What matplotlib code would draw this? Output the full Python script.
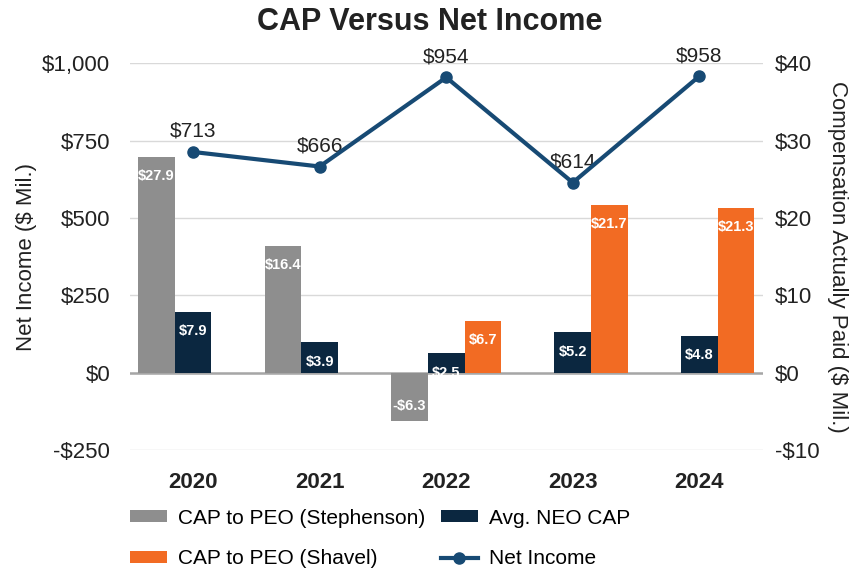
import matplotlib.pyplot as plt
import numpy as np

years = ["2020", "2021", "2022", "2023", "2024"]
net_income = [713, 666, 954, 614, 958]
cap_stephenson = [27.9, 16.4, -6.3, np.nan, np.nan]
cap_neo = [7.9, 3.9, 2.5, 5.2, 4.8]
cap_shavel = [np.nan, np.nan, 6.7, 21.7, 21.3]

gray = "#8E8E8E"
navy = "#0B2740"
orange = "#F26B23"
line_c = "#174A74"

plt.rcParams["font.family"] = ["Liberation Sans", "DejaVu Sans"]

fig = plt.figure(figsize=(8.54, 5.74), dpi=100)
ax = fig.add_axes([0.152, 0.216, 0.741, 0.674])
ax2 = ax.twinx()

x = np.arange(len(years))
w = 0.29

# bars on the right (CAP) axis
series = [(cap_stephenson, -w, gray, "CAP to PEO (Stephenson)"),
          (cap_neo, 0, navy, "Avg. NEO CAP"),
          (cap_shavel, w, orange, "CAP to PEO (Shavel)")]
handles = {}
for vals, off, col, lab in series:
    bars = ax2.bar(x + off, vals, width=w, color=col, label=lab, zorder=2)
    handles[lab] = bars
    for xi, v in zip(x + off, vals):
        if np.isnan(v):
            continue
        txt = f"${v:.1f}" if v >= 0 else f"-${-v:.1f}"
        if v >= 0:
            ax2.annotate(txt, (xi, v), xytext=(0, -9), textcoords="offset points",
                         ha="center", va="top", color="white", fontsize=10.5, fontweight="bold")
        else:
            ax2.annotate(txt, (xi, v), xytext=(0, 6), textcoords="offset points",
                         ha="center", va="bottom", color="white", fontsize=10.5, fontweight="bold")

# net income line on the left axis
ln, = ax.plot(x, net_income, color=line_c, lw=3, marker="o", ms=8, label="Net Income", zorder=5)
for xi, v in zip(x, net_income):
    ax.annotate(f"${v}", (xi, v), xytext=(0, 8), textcoords="offset points",
                ha="center", va="bottom", fontsize=15, color="#222222", annotation_clip=False)

ax.set_ylim(-250, 1000)
ax2.set_ylim(-10, 40)
ax.set_xlim(-0.5, 4.5)
ax.set_yticks([-250, 0, 250, 500, 750, 1000])
ax.set_yticklabels(["-$250", "$0", "$250", "$500", "$750", "$1,000"])
ax2.set_yticks([-10, 0, 10, 20, 30, 40])
ax2.set_yticklabels(["-$10", "$0", "$10", "$20", "$30", "$40"])
ax.set_xticks(x)
ax.set_xticklabels(years, fontweight="bold")

for a in (ax, ax2):
    for s in a.spines.values():
        s.set_visible(False)
    a.tick_params(length=0, labelsize=16, colors="#222222")
ax.tick_params(axis="x", pad=16)
ax.tick_params(axis="y", pad=14)
ax2.tick_params(axis="y", pad=9)

ax.grid(axis="y", color="#D9D9D9", lw=1)
ax.set_axisbelow(True)
ax.axhline(0, color="#A6A6A6", lw=1.8, zorder=1)

ax.set_ylabel("Net Income ($ Mil.)", fontsize=16, color="#222222", labelpad=4)
ax2.set_ylabel("Compensation Actually Paid ($ Mil.)", fontsize=16, color="#222222",
               rotation=270, labelpad=20)

fig.suptitle("CAP Versus Net Income", x=0.503, y=0.988, fontsize=22, fontweight="bold", color="#222222")

order = [handles["CAP to PEO (Stephenson)"], handles["CAP to PEO (Shavel)"],
         handles["Avg. NEO CAP"], ln]
labels = ["CAP to PEO (Stephenson)", "CAP to PEO (Shavel)", "Avg. NEO CAP", "Net Income"]
fig.legend(order, labels, ncol=2, loc="upper left", bbox_to_anchor=(0.152, 0.114),
           frameon=False, fontsize=15, handlelength=1.8, handleheight=0.5,
           labelspacing=1.05, columnspacing=0.75, handletextpad=0.5, borderaxespad=0,
           borderpad=0)

fig.savefig("out.png", dpi=100)
